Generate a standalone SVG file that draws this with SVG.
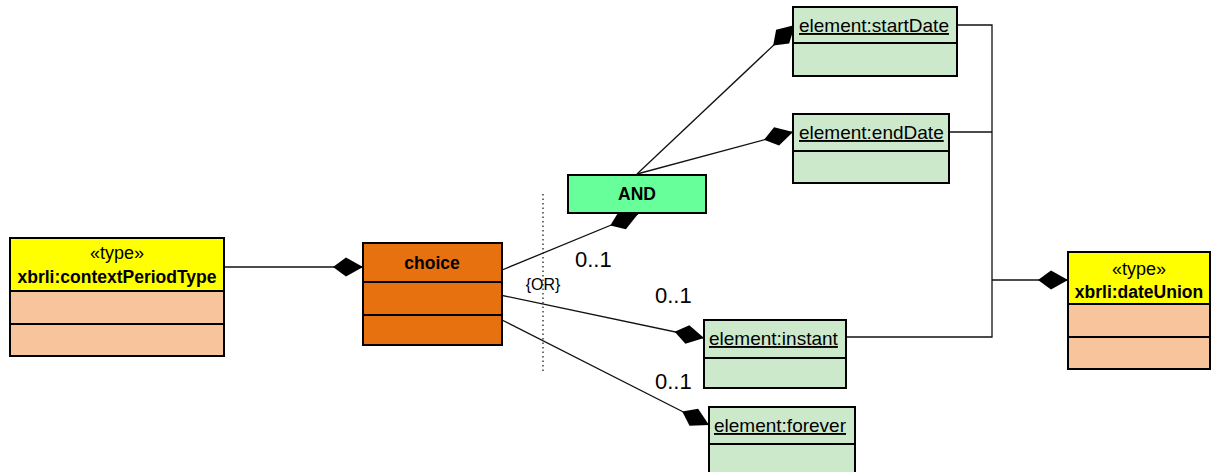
<svg xmlns="http://www.w3.org/2000/svg" width="1214" height="472" viewBox="0 0 1214 472">
<style>
  .box { stroke: #000; stroke-width: 2; }
  .div { stroke: #000; stroke-width: 2; fill: none; }
  .type { fill: #FFFF00; }
  .peach { fill: #F8C49C; }
  .orange { fill: #E8710F; }
  .and { fill: #66FF99; }
  .elem { fill: #CDE9CC; }
  .conn { stroke: #111; stroke-width: 1.3; fill: none; }
  .comp { marker-end: url(#diamond); }
  text { font-family: "Liberation Sans", Arial, sans-serif; fill: #000; }
  .bold { font-weight: bold; font-size: 17.5px; }
  .stereo { font-size: 18px; }
  .elabel { font-size: 19px; text-decoration: underline; }
  .mult { font-size: 22px; }
  .or { font-size: 16px; }
</style>
<defs>
  <marker id="diamond" markerUnits="userSpaceOnUse" viewBox="0 -10 30 20" refX="30" refY="0" markerWidth="30" markerHeight="20" orient="auto">
    <path d="M0,0 L13,-9.5 L30,0 L13,9.5 Z" fill="#000"/>
  </marker>
</defs>

<g id="connectors">
  <line class="conn comp" x1="224" y1="267" x2="363" y2="267"/>
  <line class="conn comp" x1="502" y1="270" x2="638" y2="214"/>
  <line class="conn comp" x1="637" y1="174" x2="795" y2="25"/>
  <line class="conn comp" x1="637" y1="174" x2="793" y2="132"/>
  <line class="conn comp" x1="500" y1="295" x2="704" y2="338"/>
  <line class="conn comp" x1="502" y1="320" x2="709" y2="425"/>
  <path class="conn" d="M957,25 H992 V337 H846"/>
  <path class="conn" d="M949,132 H992"/>
  <line class="conn comp" x1="992" y1="280" x2="1068" y2="280"/>
  <line x1="543" y1="194" x2="543" y2="373" stroke="#222" stroke-width="1.3" stroke-dasharray="1.5,3"/>
  <text class="or" x="543" y="290" text-anchor="middle">{OR}</text>
  <text class="mult" x="575" y="267">0..1</text>
  <text class="mult" x="655" y="303">0..1</text>
  <text class="mult" x="655" y="389">0..1</text>
</g>

<g id="contextPeriodType">
  <rect class="box type" x="10" y="238" width="214" height="53"/>
  <rect class="box peach" x="10" y="291" width="214" height="65"/>
  <line class="div" x1="10" y1="324" x2="224" y2="324"/>
  <text class="stereo" x="117" y="259" text-anchor="middle">«type»</text>
  <text class="bold" x="117" y="283" text-anchor="middle">xbrli:contextPeriodType</text>
</g>

<g id="choice">
  <rect class="box orange" x="363" y="243" width="139" height="102"/>
  <line class="div" x1="363" y1="282" x2="502" y2="282"/>
  <line class="div" x1="363" y1="315" x2="502" y2="315"/>
  <text class="bold" x="432" y="269" text-anchor="middle">choice</text>
</g>

<g id="and">
  <rect class="box and" x="568" y="175" width="138" height="38"/>
  <text class="bold" x="637" y="200" text-anchor="middle">AND</text>
</g>

<g id="startDate">
  <rect class="box elem" x="793" y="7" width="164" height="69"/>
  <line class="div" x1="793" y1="43" x2="957" y2="43"/>
  <text class="elabel" x="799" y="32">element:startDate</text>
</g>

<g id="endDate">
  <rect class="box elem" x="793" y="114" width="156" height="69"/>
  <line class="div" x1="793" y1="151" x2="949" y2="151"/>
  <text class="elabel" x="799" y="139">element:endDate</text>
</g>

<g id="instant">
  <rect class="box elem" x="704" y="320" width="142" height="68"/>
  <line class="div" x1="704" y1="358" x2="846" y2="358"/>
  <text class="elabel" x="709" y="345">element:instant</text>
</g>

<g id="forever">
  <rect class="box elem" x="709" y="407" width="146" height="75"/>
  <line class="div" x1="709" y1="444" x2="855" y2="444"/>
  <text class="elabel" x="714" y="432">element:forever</text>
</g>

<g id="dateUnion">
  <rect class="box type" x="1068" y="252" width="142" height="52"/>
  <rect class="box peach" x="1068" y="304" width="142" height="65"/>
  <line class="div" x1="1068" y1="337" x2="1210" y2="337"/>
  <text class="stereo" x="1139" y="275" text-anchor="middle">«type»</text>
  <text class="bold" x="1139" y="298" text-anchor="middle">xbrli:dateUnion</text>
</g>
</svg>
